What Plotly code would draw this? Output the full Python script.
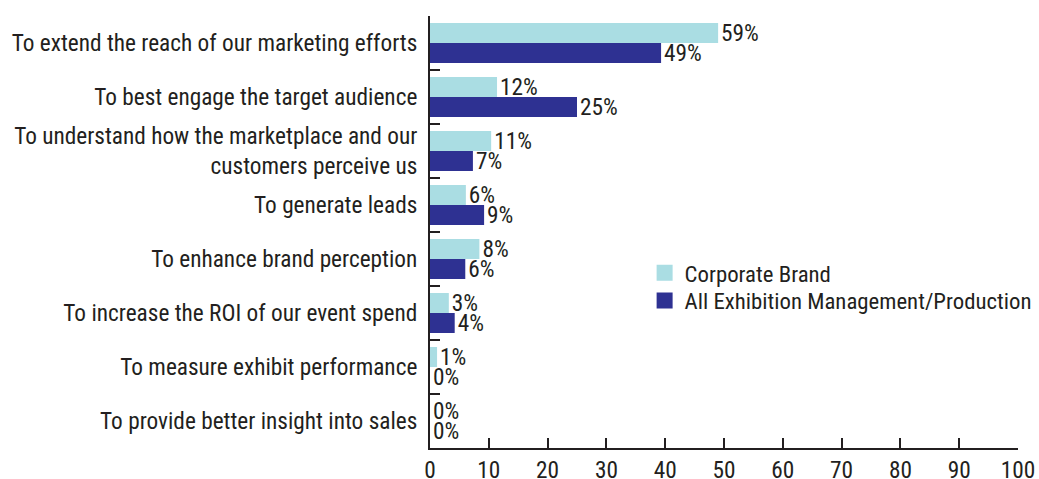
import plotly.graph_objects as go

categories = [
    "To extend the reach of our marketing efforts",
    "To best engage the target audience",
    "To understand how the marketplace and our<br>customers perceive us",
    "To generate leads",
    "To enhance brand perception",
    "To increase the ROI of our event spend",
    "To measure exhibit performance",
    "To provide better insight into sales",
]
# bar lengths as drawn in the picture
corporate_values = [49, 11.4, 10.4, 6.1, 8.4, 3.2, 1.2, 0]
exhibition_values = [39.3, 25, 7.3, 9.2, 6, 4.2, 0, 0]
# printed labels
corporate_labels = ["59%", "12%", "11%", "6%", "8%", "3%", "1%", "0%"]
exhibition_labels = ["49%", "25%", "7%", "9%", "6%", "4%", "0%", "0%"]
series_names = ["Corporate Brand", "All Exhibition Management/Production"]
series_colors = ["#aadde3", "#2e3192"]

FONT = "Roboto Condensed, Liberation Sans Narrow, Arial Narrow, sans-serif"
TXT = "#231f20"
FS = 23.3

fig = go.Figure()
for vals, labels, name, color in zip([corporate_values, exhibition_values],
                                     [corporate_labels, exhibition_labels],
                                     series_names, series_colors):
    fig.add_trace(go.Bar(
        y=categories, x=vals, orientation="h", name=name, showlegend=False,
        marker=dict(color=color, line=dict(width=0)),
        text=labels, textposition="outside", cliponaxis=False,
        constraintext="none",
        textfont=dict(family=FONT, size=FS, color=TXT),
    ))
# legend entries with square swatches (one legend each for exact placement)
for name, color, lg in zip(series_names, series_colors, ["legend", "legend2"]):
    fig.add_trace(go.Scatter(
        x=[None], y=[None], mode="markers", name=name, legend=lg,
        marker=dict(symbol="square", size=19, color=color),
    ))

legend_common = dict(xanchor="left", yanchor="middle",
                     font=dict(family=FONT, size=22.8, color=TXT),
                     bgcolor="rgba(0,0,0,0)", itemwidth=30)

fig.update_layout(
    width=1039, height=479,
    margin=dict(l=430, r=21, t=16, b=31, autoexpand=False),
    paper_bgcolor="white", plot_bgcolor="white",
    barmode="group", bargap=0.26, bargroupgap=0,
    font=dict(family=FONT, size=FS, color=TXT),
    showlegend=True,
    legend=dict(x=0.365, y=0.405, **legend_common),
    legend2=dict(x=0.365, y=0.341, **legend_common),
    xaxis=dict(range=[0, 100], dtick=10, tick0=0, showgrid=False, zeroline=False,
               showline=True, linecolor=TXT, linewidth=2, automargin=False,
               ticks="inside", ticklen=10, tickwidth=2, tickcolor=TXT,
               tickfont=dict(family=FONT, size=FS, color=TXT)),
    yaxis=dict(autorange="reversed", showgrid=False, zeroline=False,
               showline=True, linecolor=TXT, linewidth=2, automargin=False,
               ticks="inside", tickson="boundaries", ticklen=10, tickwidth=2,
               tickcolor=TXT, ticklabelstandoff=6,
               tickfont=dict(family=FONT, size=FS, color=TXT)),
)

fig.write_html("out.html", config={"displayModeBar": False},
               post_script="document.body.style.margin='0';document.body.style.overflow='hidden';")
